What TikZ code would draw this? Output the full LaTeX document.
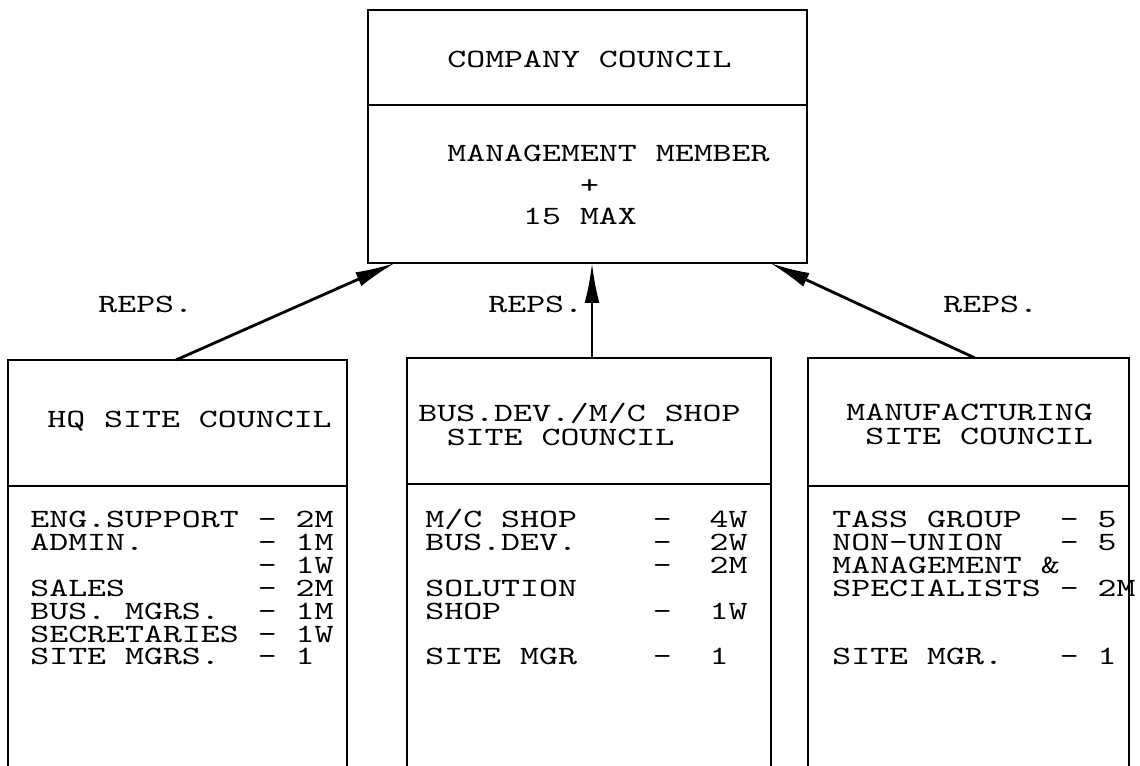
\documentclass[tikz,border=0pt]{standalone}
\usepackage{fontspec}
\usetikzlibrary{arrows.meta}
\newfontfamily\tw{lmmono10-regular.otf}[FakeStretch=1.37]
\newlength\chw
\settowidth{\chw}{\tw\fontsize{15}{13}\selectfont M}
\newcommand\col[2]{\makebox[#1\chw][l]{#2}}

\begin{document}
\begin{tikzpicture}[x=0.02cm, y=-0.02cm,
  txt/.style={anchor=base west, inner sep=0, align=left, font=\tw\fontsize{15}{13}\selectfont},
  wall/.style={line width=1.1pt},
  rule/.style={line width=0.7pt},
  reps/.style={line width=1.6pt, -{Latex[length=8mm, width=3mm]}}]

  \useasboundingbox (0,0) rectangle (1140,766);

  % 会社協議会(上の箱)
  \coordinate (CC-tl) at (368,10);
  \coordinate (CC-br) at (807,263);
  \draw[wall] (CC-tl) rectangle (CC-br);
  \draw[rule] (368,105) -- (807,105);
  \node[txt] (CCname) at (447,68) {COMPANY COUNCIL};
  % 複数行のノードは最後の行がベースライン
  \node[txt, font=\tw\fontsize{15}{18}\selectfont] (CCmember) at (447,225)
    {MANAGEMENT MEMBER\\\col{7}{}+\\\col{4}{}15 MAX};

  % 本社サイト協議会
  \coordinate (HQ-tl) at (8,360);
  \coordinate (HQ-tr) at (347,360);
  \draw[wall] (8,766) -- (HQ-tl) -- (HQ-tr) -- (347,766);
  \draw[rule] (8,486) -- (347,486);
  \node[txt] (HQname) at (47,428) {HQ SITE COUNCIL};
  \node[txt] (HQlist) at (30,665)
    {\col{12}{ENG.SUPPORT}\col{2}{-}2M\\
     \col{12}{ADMIN.}\col{2}{-}1M\\
     \col{12}{}\col{2}{-}1W\\
     \col{12}{SALES}\col{2}{-}2M\\
     \col{12}{BUS. MGRS.}\col{2}{-}1M\\
     \col{12}{SECRETARIES}\col{2}{-}1W\\
     \col{12}{SITE MGRS.}\col{2}{-}1};

  % 事業開発/機械工場サイト協議会
  \coordinate (BD-tl) at (407,358);
  \coordinate (BD-tr) at (771,358);
  \draw[wall] (407,766) -- (BD-tl) -- (BD-tr) -- (771,766);
  \draw[rule] (407,484) -- (771,484);
  \node[txt, font=\tw\fontsize{15}{14.2}\selectfont] (BDname) at (418,446)
    {BUS.DEV./M/C SHOP\\\hspace*{1.5\chw}SITE COUNCIL};
  \node[txt] (BDlist) at (425,665)
    {\col{12}{M/C SHOP}\col{3}{-}4W\\
     \col{12}{BUS.DEV.}\col{3}{-}2W\\
     \col{12}{}\col{3}{-}2M\\
     SOLUTION\\
     \col{12}{SHOP}\col{3}{-}1W\\
     \mbox{}\\
     \col{12}{SITE MGR}\col{3}{-}1};

  % 製造サイト協議会
  \coordinate (MF-tl) at (808,358);
  \coordinate (MF-tr) at (1129,358);
  \draw[wall] (808,766) -- (MF-tl) -- (MF-tr) -- (1129,766);
  \draw[rule] (808,486) -- (1129,486);
  \node[txt, font=\tw\fontsize{15}{14.2}\selectfont] (MFname) at (846,445)
    {MANUFACTURING\\\hspace*{\chw}SITE COUNCIL};
  \node[txt] (MFlist) at (832,665)
    {\col{12}{TASS GROUP}\col{2}{-}5\\
     \col{12}{NON-UNION}\col{2}{-}5\\
     MANAGEMENT \&\\
     \col{12}{SPECIALISTS}\col{2}{-}2M\\
     \mbox{}\\
     \mbox{}\\
     \col{12}{SITE MGR.}\col{2}{-}1};

  % 代表者の矢印
  \coordinate (HQ-rep) at (176,360);
  \coordinate (BD-rep) at (592,358);
  \coordinate (MF-rep) at (975,358);
  \coordinate (CC-l) at (395,263);
  \coordinate (CC-m) at (592,263);
  \coordinate (CC-r) at (770,263);
  \draw[reps] (HQ-rep) -- (CC-l);
  \draw[reps] (BD-rep) -- (CC-m);
  \draw[reps] (MF-rep) -- (CC-r);
  \node[txt] (HQreps) at (98,313) {REPS.};
  \node[txt] (BDreps) at (488,313) {REPS.};
  \node[txt] (MFreps) at (943,313) {REPS.};

\end{tikzpicture}
\end{document}
